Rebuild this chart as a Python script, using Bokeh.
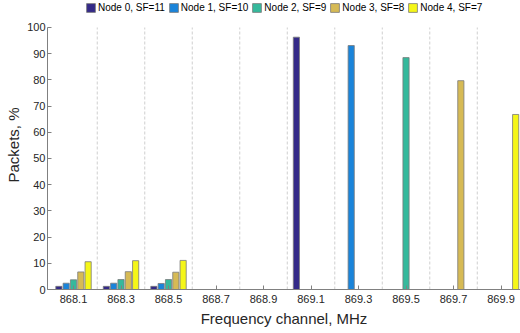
from bokeh.plotting import figure
from bokeh.models import ColumnDataSource, Legend, LegendItem, FixedTicker, Range1d
from bokeh.transform import dodge
from bokeh.embed import file_html
from bokeh.resources import INLINE

freqs = [868.1, 868.3, 868.5, 868.7, 868.9, 869.1, 869.3, 869.5, 869.7, 869.9]
tick_labels = ["868.1", "868.3", "868.5", "868.7", "868.9", "869.1", "869.3", "869.5", "869.7", "869.9"]
node0 = [1.2, 1.2, 1.2, 0, 0, 96.3, 0, 0, 0, 0]
node1 = [2.4, 2.4, 2.3, 0, 0, 0, 93.1, 0, 0, 0]
node2 = [3.7, 3.8, 3.8, 0, 0, 0, 0, 88.5, 0, 0]
node3 = [6.7, 6.8, 6.6, 0, 0, 0, 0, 0, 79.7, 0]
node4 = [10.6, 11.0, 11.1, 0, 0, 0, 0, 0, 0, 66.8]
series_names = ["Node 0, SF=11", "Node 1, SF=10", "Node 2, SF=9", "Node 3, SF=8", "Node 4, SF=7"]
colors = ["#342A88", "#1A84DA", "#35B99C", "#D6BA55", "#F5F618"]
y_ticks = list(range(0, 101, 10))

src = ColumnDataSource(dict(freq=freqs, n0=node0, n1=node1, n2=node2, n3=node3, n4=node4))

FONT = "Liberation Sans"
p = figure(width=520, height=333, output_backend="svg", toolbar_location=None,
           x_range=Range1d(867.9905, 869.982), y_range=Range1d(0, 110.3),
           min_border_left=47, min_border_right=0, min_border_top=0, min_border_bottom=44)
p.outline_line_color = None
p.background_fill_color = "white"

# vertical dashed separators between channels (grid lines)
mids = [(a + b) / 2 for a, b in zip(freqs[:-1], freqs[1:])]
gsrc = ColumnDataSource(dict(x=mids, y0=[y_ticks[0]] * len(mids), y1=[y_ticks[-1]] * len(mids)))
p.segment(x0="x", y0="y0", x1="x", y1="y1", source=gsrc, line_color="#cfcfcf",
          line_dash="3 2", line_width=1, level="underlay")

step = 0.0308
renderers = []
for i, key in enumerate(["n0", "n1", "n2", "n3", "n4"]):
    r = p.vbar(x=dodge("freq", (i - 2) * step), top=key, width=0.026, source=src,
               fill_color=colors[i], line_color="#7a7a7a", line_width=0.8)
    renderers.append(r)

legend = Legend(items=[LegendItem(label=n, renderers=[r]) for n, r in zip(series_names, renderers)],
                orientation="horizontal", location=(38, 276))
legend.glyph_width = 11
legend.glyph_height = 11
legend.label_standoff = 2
legend.spacing = 3
legend.padding = 0
legend.margin = 0
legend.border_line_color = None
legend.background_fill_alpha = 0
legend.label_text_font = FONT
legend.label_text_font_size = "10px"
legend.label_text_color = "#000000"
legend.label_height = 11
p.add_layout(legend, "center")

# axes
p.xaxis.ticker = FixedTicker(ticks=freqs)
p.xaxis.major_label_overrides = {f: t for f, t in zip(freqs, tick_labels)}
p.yaxis.ticker = FixedTicker(ticks=y_ticks)
p.yaxis.bounds = (y_ticks[0], y_ticks[-1])
for ax in (p.xaxis[0], p.yaxis[0]):
    ax.major_label_text_font = FONT
    ax.major_label_text_font_size = "11px"
    ax.major_label_text_color = "#262626"
    ax.axis_label_text_font = FONT
    ax.axis_label_text_font_size = "15px"
    ax.axis_label_text_font_style = "normal"
    ax.axis_label_text_color = "#262626"
    ax.axis_line_color = "#808080"
    ax.major_tick_line_color = "#808080"
    ax.major_tick_in = 4
    ax.major_tick_out = 0
    ax.minor_tick_line_color = None
p.xaxis.axis_label = "Frequency channel, MHz"
p.yaxis.axis_label = "Packets, %"
p.xaxis.major_label_standoff = 5
p.xaxis.axis_label_standoff = 4
p.yaxis.major_label_standoff = 2
p.yaxis.axis_label_standoff = 2

p.xgrid.grid_line_color = None
p.ygrid.grid_line_color = None

open("out.html", "w").write(file_html(p, INLINE))
